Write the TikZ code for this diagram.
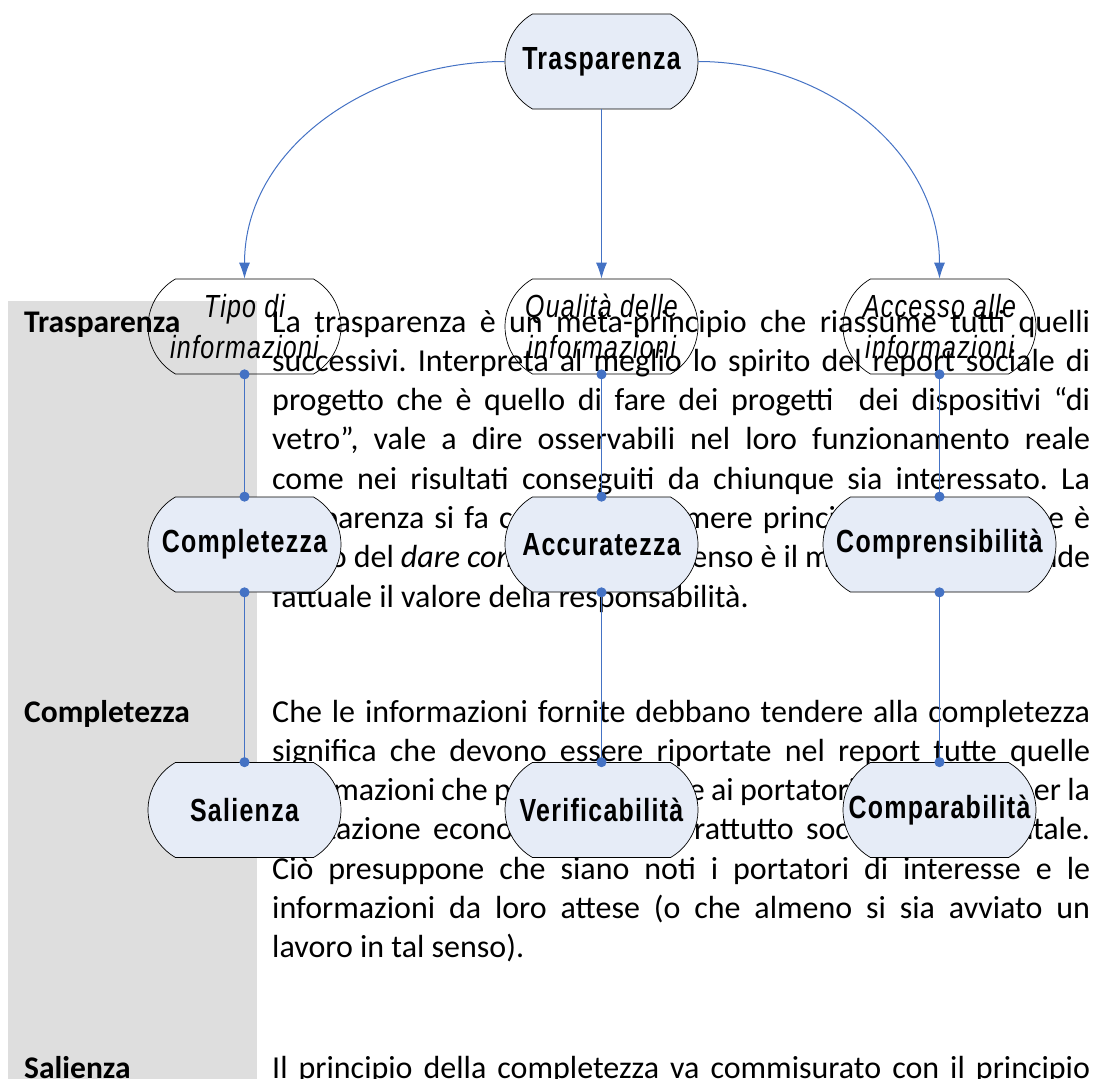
\documentclass[tikz,border=0pt]{standalone}
\usepackage{fontspec}
\setmainfont{Carlito}
\newfontfamily\boxfamily[FakeStretch=0.78,LetterSpace=4]{Liberation Sans}
\newcommand{\boxfont}{\boxfamily\fontsize{32}{41}\selectfont}
\usetikzlibrary{shapes.misc,arrows.meta}
\frenchspacing

\definecolor{linkblue}{HTML}{4472C4}
\definecolor{boxfill}{HTML}{E6ECF7}
\definecolor{colgray}{HTML}{DEDEDE}

\tikzset{
  box/.style={rounded rectangle, rounded rectangle arc length=120, draw=black,
    line width=0.7pt, minimum width=197pt, minimum height=95pt, inner sep=2pt,
    font=\boxfont\bfseries},
  filledbox/.style={box, fill=boxfill},
  openbox/.style={box, font=\boxfont\itshape, align=center},
  feed/.style={draw=linkblue, line width=1pt, -{Latex[length=16pt,width=11pt]}},
  link/.style={draw=linkblue, line width=1pt, {Circle[length=10pt]}-{Circle[length=10pt]},
    shorten <=-5pt, shorten >=-5pt},
  para/.style={anchor=base west, text width=818pt, align=justify, inner sep=0pt,
    font=\fontsize{32}{39.3}\selectfont},
  side/.style={anchor=base west, inner sep=0pt, font=\fontsize{31.5}{38}\selectfont\bfseries}
}

\begin{document}
\begin{tikzpicture}[x=1pt,y=-1pt]
  \useasboundingbox (0,0) rectangle (1096,1079);

  % left column with the headings
  \fill[colgray] (8,301) rectangle (257,1079);
  \node[side] (htras) at (24,332) {Trasparenza};
  \node[side] (hcompl) at (24,722) {Completezza};
  \node[side] (hsal) at (24,1078) {Salienza};

  % text of the table
  \node[para] (ttras) at (272,332) {La trasparenza è un meta-principio che riassume tutti quelli\linebreak
    successivi. Interpreta al meglio lo spirito del report sociale di\linebreak
    progetto che è quello di fare dei progetti\ \ dei dispositivi “di\linebreak
    vetro”, vale a dire osservabili nel loro funzionamento reale\linebreak
    come nei risultati conseguiti da chiunque sia interessato. La\linebreak
    trasparenza si fa carico di esprimere principalmente ciò che è\linebreak
    frutto del \emph{dare conto}, che in tal senso è il modo con cui si rende\linebreak
    fattuale il valore della responsabilità.};
  \node[para] (tcompl) at (272,722) {Che le informazioni fornite debbano tendere alla completezza\linebreak
    significa che devono essere riportate nel report tutte quelle\linebreak
    informazioni che possono giovare ai portatori di interesse per la\linebreak
    valutazione economica, ma soprattutto sociale e ambientale.\linebreak
    Ciò presuppone che siano noti i portatori di interesse e le\linebreak
    informazioni da loro attese (o che almeno si sia avviato un\linebreak
    lavoro in tal senso).};
  \node[side, font=\fontsize{32}{39.3}\selectfont] (tsal) at (272,1078)
    {\hbox to 818pt{Il principio della completezza va commisurato con il principio}};

  % Nodes
  \node[filledbox] (tras) at (601.5,61.5) {Trasparenza};

  \node[openbox] (tipo) at (244.5,326.5) {Tipo di\\informazioni};
  \node[openbox] (qual) at (601.5,326.5) {Qualità delle\\informazioni};
  \node[openbox] (acc) at (939.5,326.5) {Accesso alle\\informazioni};

  \node[filledbox] (compl) at (244.5,544.5) {Completezza};
  \node[filledbox] (accur) at (601.5,544.5) {Accuratezza};
  \node[filledbox, minimum width=237pt] (compr) at (939.5,544.5) {Comprensibilità};

  \node[filledbox] (sal) at (244.5,810) {Salienza};
  \node[filledbox] (ver) at (601.5,810) {Verificabilità};
  \node[filledbox] (comp) at (939.5,810) {Comparabilità};

  % Connectors
  \draw[feed] (tras.west) to[out=180, in=90] (tipo.north);
  \draw[feed] (tras.south) -- (qual.north);
  \draw[feed] (tras.east) to[out=0, in=90] (acc.north);

  \draw[link] (tipo.south) -- (compl.north);
  \draw[link] (qual.south) -- (accur.north);
  \draw[link] (acc.south) -- (compr.north);

  \draw[link] (compl.south) -- (sal.north);
  \draw[link] (accur.south) -- (ver.north);
  \draw[link] (compr.south) -- (comp.north);
\end{tikzpicture}
\end{document}
